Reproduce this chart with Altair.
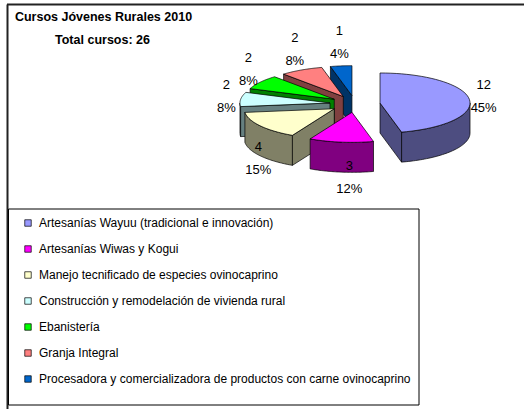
import math
import altair as alt
import pandas as pd

# ---------------- data ----------------
TITLE_LINES = ["Cursos Jóvenes Rurales 2010", "Total cursos: 26"]
CATEGORIES = [
    "Artesanías Wayuu (tradicional e innovación)",
    "Artesanías Wiwas y Kogui",
    "Manejo tecnificado de especies ovinocaprino",
    "Construcción y remodelación de vivienda rural",
    "Ebanistería",
    "Granja Integral",
    "Procesadora y comercializadora de productos con carne ovinocaprino",
]
VALUES = [12, 3, 4, 2, 2, 2, 1]
PERCENT_LABELS = ["45%", "12%", "15%", "8%", "8%", "8%", "4%"]
TOP_COLORS = ["#9999FF", "#FF00FF", "#FFFFCC", "#CCFFFF", "#00FF00", "#FF8080", "#0066CC"]
SIDE_COLORS = ["#4D4D80", "#800080", "#808066", "#668080", "#008000", "#804040", "#003366"]

# ---------------- layout / style ----------------
W, H = 524, 409
CX, CY = 355.0, 104.0      # pie centre (px)
RX, RY = 90.0, 30.0        # ellipse radii (px)
DEPTH = 30.0 / RY          # thickness in y-units
EXPLODE = 0.28
N = 48
FONT = "Liberation Sans"
XDOM = [-CX / RX, (W - CX) / RX]
YDOM = [-(H - CY) / RY, CY / RY]

df = pd.DataFrame({
    "idx": list(range(len(CATEGORIES))),
    "cat": CATEGORIES,
    "value": VALUES,
    "pct": PERCENT_LABELS,
})

xenc = alt.X("px:Q", scale=alt.Scale(domain=XDOM, nice=False, zero=False), axis=None)
yenc = alt.Y("py:Q", scale=alt.Scale(domain=YDOM, nice=False, zero=False), axis=None)


def base():
    return (
        alt.Chart()
        .transform_window(cum="sum(value)", sort=[alt.SortField("idx")])
        .transform_joinaggregate(total="sum(value)")
        .transform_calculate(
            a0="2*PI*(datum.cum - datum.value)/datum.total",
            a1="2*PI*datum.cum/datum.total",
        )
        .transform_calculate(mid="(datum.a0 + datum.a1)/2")
        .transform_calculate(ex=f"{EXPLODE}*sin(datum.mid)", ey=f"{EXPLODE}*cos(datum.mid)")
    )


def sides_layer(i):
    name = CATEGORIES[i]
    return (
        base()
        .transform_filter(alt.datum.cat == name)
        .transform_calculate(parts="[0,1,2]")
        .transform_flatten(["parts"], as_=["part"])
        .transform_calculate(w0="max(datum.a0, PI/2)", w1="min(datum.a1, 3*PI/2)")
        .transform_calculate(
            vis="datum.part == 0 ? (datum.w1 > datum.w0 + 0.001) : "
                "(datum.part == 1 ? sin(datum.a0) < -0.01 : sin(datum.a1) > 0.01)"
        )
        .transform_filter("datum.vis")
        .transform_calculate(seq=f"sequence(0, {2 * N + 3})")
        .transform_flatten(["seq"], as_=["k"])
        .transform_filter("datum.part == 0 || datum.k <= 4")
        .transform_calculate(
            t=f"datum.part == 0 ? (datum.k <= {N} ? datum.w0 + (datum.w1 - datum.w0)*datum.k/{N} : "
              f"(datum.k <= {2 * N + 1} ? datum.w1 - (datum.w1 - datum.w0)*(datum.k - {N + 1})/{N} : datum.w0)) : "
              f"(datum.part == 1 ? datum.a0 : datum.a1)",
            onedge=f"datum.part == 0 ? true : (datum.k == 1 || datum.k == 2)",
            low=f"datum.part == 0 ? (datum.k > {N} && datum.k <= {2 * N + 1}) : (datum.k == 2 || datum.k == 3)",
        )
        .transform_calculate(
            px="datum.ex + (datum.onedge ? sin(datum.t) : 0)",
            py=f"datum.ey + (datum.onedge ? cos(datum.t) : 0) - (datum.low ? {DEPTH} : 0)",
        )
        .mark_line(filled=True, stroke="black", strokeWidth=0.7, strokeJoin="round")
        .encode(
            x=xenc, y=yenc,
            order=alt.Order("k:Q"),
            detail="part:N",
            fill=alt.value(SIDE_COLORS[i]),
        )
    )


def top_layer(i):
    name = CATEGORIES[i]
    return (
        base()
        .transform_filter(alt.datum.cat == name)
        .transform_calculate(seq=f"sequence(0, {N + 3})")
        .transform_flatten(["seq"], as_=["k"])
        .transform_calculate(
            t=f"datum.a0 + (datum.a1 - datum.a0)*(datum.k - 1)/{N}",
            onedge=f"datum.k >= 1 && datum.k <= {N + 1}",
        )
        .transform_calculate(
            px="datum.ex + (datum.onedge ? sin(datum.t) : 0)",
            py="datum.ey + (datum.onedge ? cos(datum.t) : 0)",
        )
        .mark_line(filled=True, stroke="black", strokeWidth=0.7, strokeJoin="round")
        .encode(
            x=xenc, y=yenc,
            order=alt.Order("k:Q"),
            fill=alt.Fill(
                "cat:N",
                scale=alt.Scale(domain=CATEGORIES, range=TOP_COLORS),
                legend=alt.Legend(
                    title=None, orient="none", legendX=22, legendY=217,
                    symbolType="square", symbolSize=42,
                    symbolStrokeColor="black", symbolStrokeWidth=0.7,
                    labelFont=FONT, labelFontSize=12, labelColor="black",
                    labelLimit=0, rowPadding=14, padding=0, labelOffset=5,
                ),
            ),
        )
    )


# back-to-front order of slices (derived from the values)
total = sum(VALUES)
cum = 0
depth_key = []
for i, v in enumerate(VALUES):
    mid = 2 * math.pi * (cum + v / 2) / total
    cum += v
    depth_key.append((-math.cos(mid), i))
order = [i for _, i in sorted(depth_key)]

pie_layers = []
for i in order:
    pie_layers.append(sides_layer(i))
    pie_layers.append(top_layer(i))

label_base = base().transform_calculate(
    front="clamp(-2*cos(datum.mid), 0, 1)",
).transform_calculate(
    px=f"1.44*sin(datum.mid) + {10 / RX}*datum.front",
    py=f"1.45*cos(datum.mid) + {18 / RY}*max(cos(datum.mid), 0) - {DEPTH}*datum.front",
)
value_text = label_base.mark_text(font=FONT, fontSize=13, color="black", dy=-11.5).encode(
    x=xenc, y=yenc, text="value:Q")
pct_text = label_base.mark_text(font=FONT, fontSize=13, color="black", dy=11.5).encode(
    x=xenc, y=yenc, text="pct:N")

one = alt.Data(values=[{"a": 0}])
frame_top = alt.Chart(one).mark_rule(color="#222222", strokeWidth=2).encode(
    x=alt.value(7), x2=alt.value(W), y=alt.value(4.5))
frame_left = alt.Chart(one).mark_rule(color="#222222", strokeWidth=2).encode(
    x=alt.value(7.5), y=alt.value(4.5), y2=alt.value(H))
legend_box = alt.Chart(one).mark_rect(fillOpacity=0, stroke="black", strokeWidth=1).encode(
    x=alt.value(8.5), x2=alt.value(419), y=alt.value(209), y2=alt.value(405))

title1 = alt.Chart(alt.Data(values=[{"t": TITLE_LINES[0]}])).mark_text(
    font=FONT, fontSize=12.5, fontWeight="bold", color="black").encode(
    x=alt.value(103.5), y=alt.value(17), text="t:N")
title2 = alt.Chart(alt.Data(values=[{"t": TITLE_LINES[1]}])).mark_text(
    font=FONT, fontSize=12.5, fontWeight="bold", color="black").encode(
    x=alt.value(102.5), y=alt.value(40), text="t:N")

chart = alt.layer(
    frame_top, frame_left, legend_box,
    *pie_layers,
    value_text, pct_text,
    title1, title2,
    data=df,
).properties(
    width=W, height=H, padding=0, autosize="none", background="white"
).configure_view(stroke=None)

chart.save("out.html", embed_options={"renderer": "svg", "actions": False})
